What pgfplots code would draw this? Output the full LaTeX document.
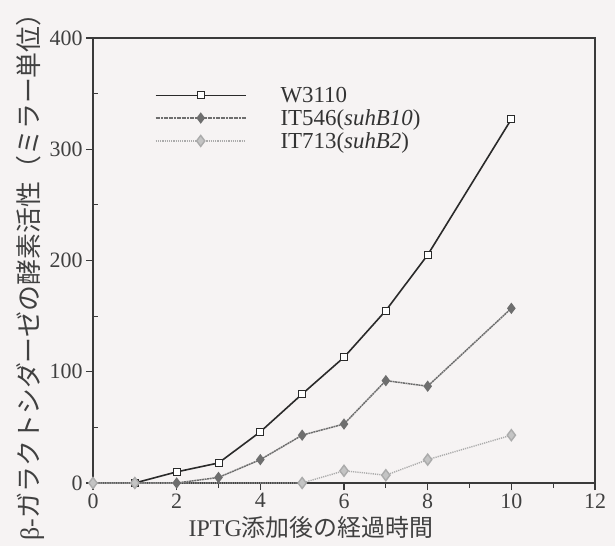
\documentclass[border=0pt]{standalone}
\usepackage{pgfplots}
\pgfplotsset{compat=1.18}
\usepackage{fontspec}
\setmainfont{Liberation Serif}
\newfontfamily\cjk{Noto Sans CJK JP}
\usetikzlibrary{backgrounds,calc}
\definecolor{bg}{HTML}{F6F3F3}
\definecolor{axc}{HTML}{3A3A3A}
\definecolor{s1}{HTML}{2A2A2A}
\definecolor{s2}{HTML}{6E6E6E}
\definecolor{s3}{HTML}{ABABAB}
\begin{document}
\begin{tikzpicture}[show background rectangle, background rectangle/.style={fill=bg, draw=none}, inner frame sep=0pt]
\begin{axis}[
  name=ax,
  scale only axis, width=502bp, height=445bp,
  xmin=0, xmax=12, ymin=0, ymax=400,
  xtick={0,2,...,12}, minor xtick={1,3,...,11},
  ytick={0,100,...,400},
  extra y ticks={50,150,250,350}, extra y tick labels={},
  extra y tick style={tick align=inside, major tick length=5bp},
  tick align=outside, xtick pos=left, ytick pos=left,
  major tick length=7bp, minor tick length=5bp,
  axis line style={draw=axc, line width=1.1bp},
  tick style={draw=axc, line width=1.1bp},
  ticklabel style={font=\fontsize{22}{24}\selectfont, text=black!75},
  /pgf/number format/assume math mode=true,
  xlabel={IPTG{\cjk 添加後の経過時間}},
  ylabel={β-{\cjk ガラクトシダーゼの酵素活性（ミラー単位）}},
  xlabel style={font=\fontsize{24}{27}\selectfont, text=black!75, at={(axis description cs:0.434,-0.099)}, anchor=center},
  ylabel style={font=\fontsize{26}{28}\selectfont, text=black!75, at={(axis description cs:-0.125,0.478)}, anchor=center},
  clip=false,
  legend style={draw=none, fill=none, at={(axis description cs:0.117,0.899)}, anchor=north west,
    font=\fontsize{23}{26}\selectfont, text=black!80, row sep=1.5bp},
  legend cell align=left,
  legend image code/.code={\draw[mark repeat=2, mark phase=2, #1] plot coordinates {(0bp,0bp) (45bp,0bp) (90bp,0bp)}; \path (122bp,0bp);},
]
\addplot[s1, line width=1.6bp, mark=square*, mark size=3.5bp, mark options={fill=white, draw=s1, line width=1bp, solid}]
  coordinates {(1,0) (2,10) (3,18) (4,46) (5,80) (6,113) (7,155) (8,205) (10,327)};
\addlegendentry{W3110}
\addplot[s2, line width=1.5bp, dash pattern=on 2bp off 0.6bp, mark=diamond*, mark size=4.5bp, mark options={fill=s2, draw=s2, solid}]
  coordinates {(0,0) (1,0) (2,0) (3,5) (4,21) (5,43) (6,53) (7,92) (8,87) (10,157)};
\addlegendentry{IT546(\textit{suhB10})}
\addplot[s3, line width=1.4bp, dash pattern=on 1.2bp off 1bp, mark=diamond*, mark size=5.5bp, mark options={fill=s3!70, draw=s3, solid}]
  coordinates {(0,0) (1,0) (5,0) (6,11) (7,7) (8,21) (10,43)};
\addlegendentry{IT713(\textit{suhB2})}
\end{axis}
\pgfresetboundingbox
\path ($(ax.south west)+(-93bp,-63bp)$) rectangle ($(ax.north east)+(20bp,38bp)$);
\end{tikzpicture}
\end{document}
